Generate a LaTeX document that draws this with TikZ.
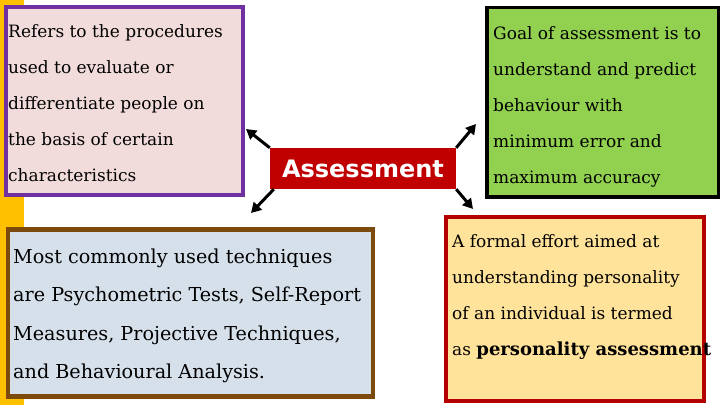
\documentclass[tikz,border=0pt]{standalone}
\usepackage{fontspec}
\setmainfont{DejaVu Serif}
\newfontfamily\hubfont{DejaVu Sans}
\usetikzlibrary{arrows.meta}

\definecolor{barorange}{HTML}{FFC000}
\definecolor{defline}{HTML}{7030A0}
\definecolor{deffill}{HTML}{F2DCDB}
\definecolor{goalfill}{HTML}{92D050}
\definecolor{techline}{HTML}{7B4A0C}
\definecolor{techfill}{HTML}{D6E0EB}
\definecolor{formalline}{HTML}{B50000}
\definecolor{formalfill}{HTML}{FFE39A}
\definecolor{hubred}{HTML}{C00000}

\begin{document}
\begin{tikzpicture}[x=1pt,y=-1pt]

        \useasboundingbox (0,0) rectangle (720,405);
        \fill[barorange] (0,0) rectangle (24,405);

        % the four boxes
        \begin{scope}[every node/.style={rectangle,anchor=north west,inner sep=0pt,line width=4pt}]
          \node[draw=defline,fill=deffill,minimum width=236.5pt,minimum height=188pt] (def) at (4,5) {};
          \node[draw=black,fill=goalfill,line width=3.5pt,minimum width=231.5pt,minimum height=189.5pt] (goal) at (485,5.5) {};
          \node[draw=techline,fill=techfill,line width=4.5pt,minimum width=365pt,minimum height=167pt] (tech) at (5.5,227) {};
          \node[draw=formalline,fill=formalfill,minimum width=257.5pt,minimum height=184pt] (formal) at (444,215) {};
        \end{scope}

        % texts in the boxes
        \begin{scope}[every node/.style={anchor=north west,inner sep=0pt,align=left,font=\fontsize{17}{36}\selectfont}]
          \node (deftext) at (8,24) {Refers to the procedures\\used to evaluate or\\differentiate people on\\the basis of certain\\characteristics};
          \node (goaltext) at (493,26) {Goal of assessment is to\\understand and predict\\behaviour with\\minimum error and\\maximum accuracy};
          \node[font=\fontsize{19.2}{38.5}\selectfont] (techtext) at (13,248.5) {Most commonly used techniques\\are Psychometric Tests, Self-Report\\Measures, Projective Techniques,\\and Behavioural Analysis.};
          \node (formaltext) at (452,234) {A formal effort aimed at\\understanding personality\\of an individual is termed\\as {\fontsize{18}{36}\selectfont\bfseries personality assessment}};
        \end{scope}

        \node[fill=hubred,text=white,font=\hubfont\bfseries\fontsize{24}{24}\selectfont,
              minimum width=186pt,minimum height=41pt,inner sep=0pt] (hub) at (363,168.5) {Assessment};

        \coordinate (ul) at (246,129);
        \coordinate (ll) at (251,213);
        \coordinate (ur) at (476,124);
        \coordinate (lr) at (473,209);

        \begin{scope}[every edge/.style={draw,line width=3pt,-{Triangle[length=10pt,width=11pt]}}]
          \path (hub.north west) edge (ul);
          \path ([xshift=4pt]hub.south west) edge (ll);
          \path (hub.north east) edge (ur);
          \path (hub.south east) edge (lr);
        \end{scope}

\end{tikzpicture}
\end{document}
